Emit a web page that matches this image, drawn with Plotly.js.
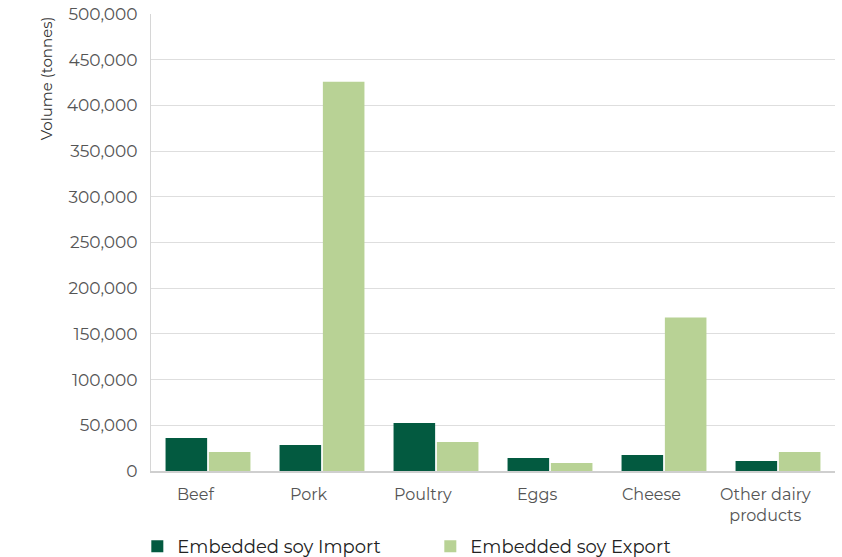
<!DOCTYPE html>
<html>
<head>
<meta charset="utf-8">
<script src="https://cdn.plot.ly/plotly-3.0.1.min.js"></script>
<style>html,body{margin:0;padding:0;background:#fff}#chart{width:842px;height:557px}</style>
</head>
<body>
<div id="chart"></div>
<script>
const categories = ["Beef", "Pork", "Poultry", "Eggs", "Cheese", "Other dairy<br>products"];
const importValues = [36000, 28500, 52500, 14300, 17500, 11000];
const exportValues = [20800, 426000, 31800, 8800, 168000, 20800];
const seriesNames = ["Embedded soy Import", "Embedded soy Export"];
const yTicks = [0, 50000, 100000, 150000, 200000, 250000, 300000, 350000, 400000, 450000, 500000];

const font = "Montserrat, 'Open Sans', Lato, sans-serif";
const traces = [
  {type: 'bar', name: seriesNames[0], x: categories, y: importValues, marker: {color: '#035a40'}},
  {type: 'bar', name: seriesNames[1], x: categories, y: exportValues, marker: {color: '#b8d295'}}
];
const catLabels = categories.map(c => ({
  text: c, x: c, y: 0, xref: 'x', yref: 'y', yshift: -12,
  xanchor: 'center', yanchor: 'top', xshift: -13, showarrow: false,
  align: 'center', font: {size: 16, color: '#555'}
}));
const layout = {
  width: 842, height: 557,
  margin: {l: 151, r: 7, t: 14, b: 86, autoexpand: false},
  paper_bgcolor: '#fff', plot_bgcolor: '#fff',
  barmode: 'group', bargap: 0.24, bargroupgap: 0.04,
  font: {family: font, color: '#555', size: 16},
  xaxis: {
    showgrid: false, showline: true, linecolor: '#cfcfcf', linewidth: 1.5,
    ticks: '', showticklabels: false
  },
  yaxis: {
    range: [0, 500000], tickvals: yTicks, tickformat: ',d',
    showgrid: true, gridcolor: '#dedede', gridwidth: 1,
    showline: true, linecolor: '#d6d6d6', linewidth: 1,
    zeroline: false, ticks: '', tickfont: {size: 17, color: '#555'},
    ticklabelstandoff: 9
  },
  showlegend: true,
  legend: {
    orientation: 'h', x: -0.02, xanchor: 'left', y: -0.125, yanchor: 'top',
    xref: 'paper', font: {size: 18, color: '#222'},
    entrywidth: 248, entrywidthmode: 'pixels', traceorder: 'normal'
  },
  annotations: [{
    text: 'Volume (tonnes)', xref: 'paper', yref: 'paper',
    x: -0.153, y: 1.0, xanchor: 'center', yanchor: 'top',
    textangle: -90, showarrow: false, font: {size: 15, color: '#333'}
  }].concat(catLabels)
};
Plotly.newPlot('chart', traces, layout, {displayModeBar: false, staticPlot: true});
</script>
</body>
</html>
